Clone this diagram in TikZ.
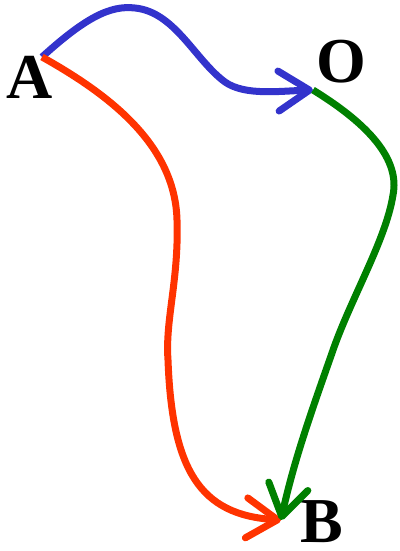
\documentclass[tikz,border=0pt]{standalone}
\usepackage{fontspec}
\setmainfont{Liberation Serif}
\usetikzlibrary{arrows.meta}
\definecolor{cblue}{HTML}{3333CC}
\definecolor{cred}{HTML}{FF3300}
\definecolor{cgreen}{HTML}{008000}
\begin{document}
\begin{tikzpicture}[x=1pt,y=-1pt,
  lbl/.style={anchor=base,inner sep=0pt,font=\fontsize{64}{64}\selectfont\bfseries},
  curve/.style={line width=7pt,-{Straight Barb[length=31pt,width=40pt,round]}}]
\useasboundingbox (0,0) rectangle (399,551);
\node[lbl] (A) at (30,98) {A};
\node[lbl] (O) at (341,82) {O};
\node[lbl] (B) at (322,542) {B};
\coordinate (As) at (42,57);
\coordinate (Oe) at (313,90);
\coordinate (Be) at (281,520);
\draw[curve,cblue,line cap=butt] (As) .. controls (85,18) and (110,5) .. (135,8)
  .. controls (175,12) and (195,60) .. (225,82)
  .. controls (245,96) and (280,91) .. (Oe);
\draw[curve,cred] (As) .. controls (110,95) and (175,145) .. (177,220)
  .. controls (179,280) and (165,320) .. (168,360)
  .. controls (172,470) and (200,515) .. (Be);
\draw[curve,cgreen] (Oe) .. controls (370,125) and (400,160) .. (393,195)
  .. controls (386,240) and (350,300) .. (332,353)
  .. controls (312,410) and (294,460) .. (Be);
\end{tikzpicture}
\end{document}
